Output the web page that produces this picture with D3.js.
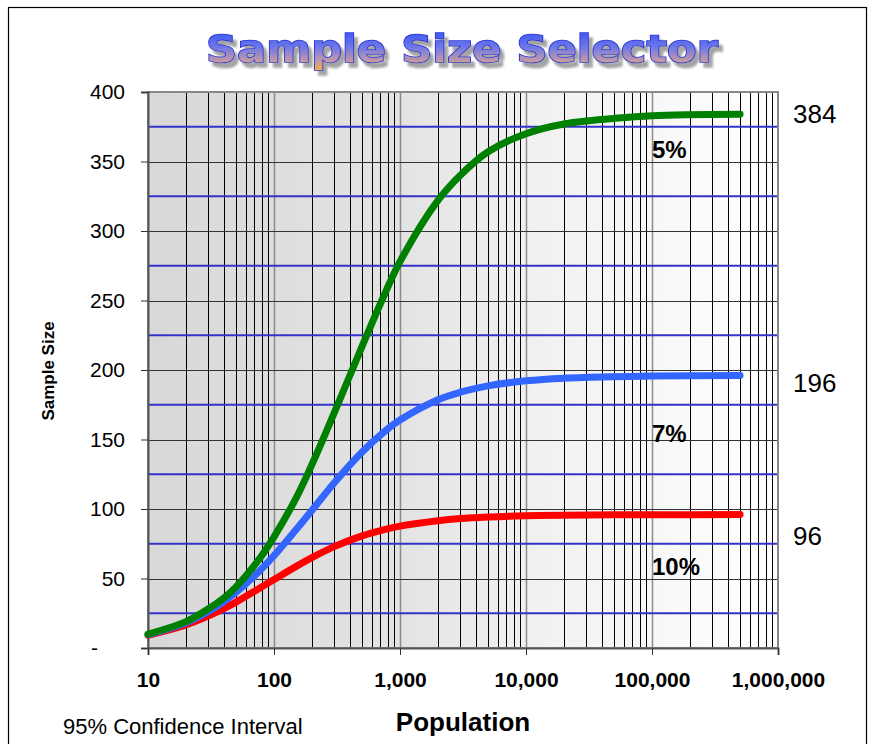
<!DOCTYPE html>
<html>
<head>
<meta charset="utf-8">
<script src="https://cdn.jsdelivr.net/npm/d3@7"></script>
<style>
  html, body { margin: 0; padding: 0; background: #fff; }
  svg { display: block; }
</style>
</head>
<body>
<div id="chart"></div>
<script>
// Population sizes at which the required sample size is plotted
const population = [10, 20, 30, 40, 50, 75, 100, 150, 200, 300, 500, 750, 1000, 2000, 3000, 5000, 10000, 20000, 50000, 100000, 500000];
// Required sample size at 95% confidence, for each margin of error
const margin5  = [10, 19, 28, 36, 44, 63, 80, 108, 132, 169, 217, 254, 278, 322, 340, 357, 370, 377, 381, 383, 384];
const margin7  = [9.6, 18.2, 26.1, 33.4, 40, 54.5, 66.4, 85.2, 99, 118.7, 141, 155.6, 164, 178.6, 184, 188.6, 192.2, 194.1, 195.2, 195.6, 196];
const margin10 = [9.1, 16.6, 23, 28.4, 33, 42.4, 49.2, 58.7, 65, 72.9, 80.7, 85.2, 87.7, 91.6, 93.1, 94.2, 95.1, 95.5, 95.8, 95.9, 96];

const seriesNames = ["5%", "7%", "10%"];
const seriesColors = ["#008000", "#3366ff", "#ff0000"];
const seriesLimits = [384, 196, 96];

const xTicks = [10, 100, 1000, 10000, 100000, 1000000];
const yTicks = [0, 50, 100, 150, 200, 250, 300, 350, 400];
const yBlueLines = [25, 75, 125, 175, 225, 275, 325, 375];

const W = 874, H = 744;
const plot = { left: 148, right: 778, top: 92, bottom: 648 };

const svg = d3.select("#chart").append("svg")
  .attr("width", W).attr("height", H);

const defs = svg.append("defs");

// Plot background: grey to white, left to right
const bg = defs.append("linearGradient").attr("id", "plotBg")
  .attr("x1", "0").attr("y1", "0").attr("x2", "1").attr("y2", "0");
bg.append("stop").attr("offset", "0%").attr("stop-color", "#d8d8d8");
bg.append("stop").attr("offset", "40%").attr("stop-color", "#e3e3e3");
bg.append("stop").attr("offset", "60%").attr("stop-color", "#f0f0f0");
bg.append("stop").attr("offset", "100%").attr("stop-color", "#ffffff");

// Title fill: blue on top fading to orange at the bottom
const tg = defs.append("linearGradient").attr("id", "titleFill")
  .attr("x1", "0").attr("y1", "0").attr("x2", "0").attr("y2", "1");
tg.append("stop").attr("offset", "0%").attr("stop-color", "#3050f5");
tg.append("stop").attr("offset", "45%").attr("stop-color", "#7078e8");
tg.append("stop").attr("offset", "75%").attr("stop-color", "#c098a8");
tg.append("stop").attr("offset", "100%").attr("stop-color", "#f8ac40");

const shadow = defs.append("filter").attr("id", "titleShadow")
  .attr("x", "-5%").attr("y", "-30%").attr("width", "112%").attr("height", "170%");
shadow.append("feDropShadow")
  .attr("dx", 4).attr("dy", 5).attr("stdDeviation", 1.2)
  .attr("flood-color", "#9a9a9a").attr("flood-opacity", 0.9);

// Outer frame
svg.append("rect")
  .attr("x", 8.5).attr("y", 7.5)
  .attr("width", 858).attr("height", 780)
  .attr("fill", "#fff").attr("stroke", "#000").attr("stroke-width", 1.2);

const x = d3.scaleLog().domain([10, 1000000]).range([plot.left, plot.right]);
const y = d3.scaleLinear().domain([0, 400]).range([plot.bottom, plot.top]);

// Background
svg.append("rect")
  .attr("x", plot.left).attr("y", plot.top)
  .attr("width", plot.right - plot.left).attr("height", plot.bottom - plot.top)
  .attr("fill", "url(#plotBg)");

const grid = svg.append("g");

// Vertical log grid lines
const minor = [];
for (let d = 10; d < 1000000; d *= 10) {
  for (let k = 2; k <= 9; k++) minor.push(d * k);
}
grid.selectAll("line.vminor").data(minor).join("line")
  .attr("class", "vminor")
  .attr("x1", d => Math.round(x(d)) + 0.5).attr("x2", d => Math.round(x(d)) + 0.5)
  .attr("y1", plot.top).attr("y2", plot.bottom)
  .attr("stroke", "#000").attr("stroke-width", 1);

grid.selectAll("line.vmajor").data(xTicks.slice(1, -1)).join("line")
  .attr("class", "vmajor")
  .attr("x1", d => Math.round(x(d)) + 0.5).attr("x2", d => Math.round(x(d)) + 0.5)
  .attr("y1", plot.top).attr("y2", plot.bottom)
  .attr("stroke", "#8c8c8c").attr("stroke-width", 1.5);

// Horizontal grid lines at every 50
grid.selectAll("line.hmajor").data(yTicks.slice(1, -1)).join("line")
  .attr("class", "hmajor")
  .attr("x1", plot.left).attr("x2", plot.right)
  .attr("y1", d => Math.round(y(d)) + 0.5).attr("y2", d => Math.round(y(d)) + 0.5)
  .attr("stroke", "#333").attr("stroke-width", 1);

// Blue guide lines between them
grid.selectAll("line.hblue").data(yBlueLines).join("line")
  .attr("class", "hblue")
  .attr("x1", plot.left).attr("x2", plot.right)
  .attr("y1", d => y(d)).attr("y2", d => y(d))
  .attr("stroke", "#3333cc").attr("stroke-width", 2.2);

// Plot border
svg.append("rect")
  .attr("x", plot.left).attr("y", plot.top)
  .attr("width", plot.right - plot.left).attr("height", plot.bottom - plot.top)
  .attr("fill", "none").attr("stroke", "#888").attr("stroke-width", 2);

// Y axis
const yAxis = d3.axisLeft(y).tickValues(yTicks)
  .tickFormat(d => d === 0 ? "-" : d3.format(",")(d))
  .tickSize(7).tickPadding(16);
const gy = svg.append("g").attr("transform", `translate(${plot.left},0)`).call(yAxis);
gy.select(".domain").attr("stroke", "#555").attr("stroke-width", 2);
gy.selectAll(".tick line").attr("stroke", "#333");
gy.selectAll(".tick text")
  .attr("font-family", "Liberation Sans, Arial, sans-serif")
  .attr("font-size", 21).attr("fill", "#000");
gy.selectAll(".tick text").filter(d => d === 0).attr("dx", -27);

// X axis
const xAxis = d3.axisBottom(x).tickValues(xTicks)
  .tickFormat(d3.format(","))
  .tickSize(7).tickPadding(17);
const gx = svg.append("g").attr("transform", `translate(0,${plot.bottom})`).call(xAxis);
gx.select(".domain").attr("stroke", "#555").attr("stroke-width", 2);
gx.selectAll(".tick line").attr("stroke", "#333");
gx.selectAll(".tick text")
  .attr("font-family", "Liberation Sans, Arial, sans-serif")
  .attr("font-size", 21).attr("font-weight", "bold").attr("fill", "#000");

// Curves
const series = [margin5, margin7, margin10];
const line = d3.line()
  .x((d, i) => x(population[i]))
  .y(d => y(d))
  .curve(d3.curveCatmullRom.alpha(0.5));

svg.append("g").selectAll("path").data(series.slice().reverse()).join("path")
  .attr("d", d => line(d))
  .attr("fill", "none")
  .attr("stroke", (d, i) => seriesColors[series.length - 1 - i])
  .attr("stroke-width", 7)
  .attr("stroke-linecap", "round")
  .attr("stroke-linejoin", "round");

// Series labels inside the plot
const labelY = [158, 442, 575];
svg.append("g").selectAll("text").data(seriesNames).join("text")
  .attr("x", x(100000)).attr("y", (d, i) => labelY[i])
  .attr("font-family", "Liberation Sans, Arial, sans-serif")
  .attr("font-size", 24).attr("font-weight", "bold")
  .text(d => d);

// Limits on the right
const limitY = [123, 392, 545];
svg.append("g").selectAll("text").data(seriesLimits).join("text")
  .attr("x", 793).attr("y", (d, i) => limitY[i])
  .attr("font-family", "Liberation Sans, Arial, sans-serif")
  .attr("font-size", 26)
  .text(d => d);

// Axis titles
svg.append("text")
  .attr("transform", `translate(54,${(plot.top + plot.bottom) / 2 + 1}) rotate(-90)`)
  .attr("text-anchor", "middle")
  .attr("font-family", "Liberation Sans Narrow, Arial Narrow, sans-serif")
  .attr("font-size", 17).attr("font-weight", "bold")
  .text("Sample Size");

svg.append("text")
  .attr("x", 463).attr("y", 731)
  .attr("text-anchor", "middle")
  .attr("font-family", "Liberation Sans Narrow, Arial Narrow, sans-serif")
  .attr("font-size", 26).attr("font-weight", "bold")
  .text("Population");

svg.append("text")
  .attr("x", 63).attr("y", 734)
  .attr("font-family", "Liberation Sans, Arial, sans-serif")
  .attr("font-size", 22)
  .text("95% Confidence Interval");

// Title with drop shadow
svg.append("text")
  .attr("x", 206).attr("y", 62)
  .attr("textLength", 512).attr("lengthAdjust", "spacingAndGlyphs")
  .attr("font-family", "DejaVu Sans, sans-serif")
  .attr("font-size", 37).attr("font-weight", "bold")
  .attr("fill", "url(#titleFill)")
  .attr("stroke", "#2a35d0").attr("stroke-width", 1.6)
  .attr("paint-order", "stroke")
  .attr("filter", "url(#titleShadow)")
  .text("Sample Size Selector");
</script>
</body>
</html>
